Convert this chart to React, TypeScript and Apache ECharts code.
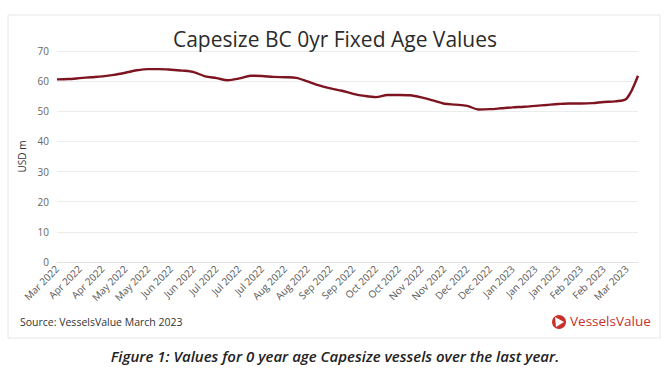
import React, { useEffect, useRef } from "react";
import * as echarts from "echarts";

const tickLabels = [
  "Mar 2022", "Apr 2022", "Apr 2022", "May 2022", "May 2022", "Jun 2022", "Jun 2022",
  "Jul 2022", "Jul 2022", "Jul 2022", "Aug 2022", "Aug 2022", "Sep 2022", "Sep 2022",
  "Oct 2022", "Oct 2022", "Nov 2022", "Nov 2022", "Dec 2022", "Dec 2022",
  "Jan 2023", "Jan 2023", "Jan 2023", "Feb 2023", "Feb 2023", "Mar 2023",
];

const values = [
  60.6, 60.7, 61.0, 61.3, 61.6, 62.1, 62.8, 63.6, 64.0, 64.0,
  63.8, 63.5, 63.0, 61.6, 61.0, 60.3, 60.9, 61.8, 61.7, 61.4,
  61.3, 61.1, 59.9, 58.6, 57.6, 56.8, 55.8, 55.1, 54.7, 55.4,
  55.4, 55.3, 54.6, 53.6, 52.5, 52.2, 51.8, 50.6, 50.7, 51.0,
  51.3, 51.5, 51.8, 52.1, 52.4, 52.6, 52.6, 52.7, 53.1, 53.3,
  54.2, 61.8,
];

const categories: string[] = values.map((_, i) => tickLabels[Math.min(Math.floor(i / 2), tickLabels.length - 1)]);

const title = "Capesize BC 0yr Fixed Age Values";
const yAxisName = "USD m";
const sourceText = "Source: VesselsValue March 2023";
const brandText = "VesselsValue";
const caption = "Figure 1: Values for 0 year age Capesize vessels over the last year.";

export default function App() {
  const ref = useRef<HTMLDivElement>(null);
  useEffect(() => {
    if (!ref.current) return;
    const chart = echarts.init(ref.current, undefined, { renderer: "svg" });
    const font = "'Open Sans', sans-serif";
    chart.setOption({
      animation: false,
      backgroundColor: "#ffffff",
      title: {
        text: title,
        left: "center",
        top: 23,
        textStyle: { fontFamily: font, fontSize: 21, fontWeight: "normal", color: "#2b2b2b" },
      },
      grid: { left: 57, right: 32, top: 51, bottom: 118 },
      xAxis: {
        type: "category",
        data: categories,
        boundaryGap: false,
        axisLine: { show: true, lineStyle: { color: "#e3e3e3" } },
        axisTick: { show: false },
        axisLabel: {
          interval: 1,
          rotate: 45,
          fontFamily: font,
          fontSize: 10,
          color: "#555",
          margin: 5,
        },
      },
      yAxis: {
        type: "value",
        min: 0,
        max: 70,
        interval: 10,
        name: yAxisName,
        nameLocation: "middle",
        nameGap: 29,
        nameTextStyle: { fontFamily: font, fontSize: 10, color: "#333" },
        axisLine: { show: false },
        axisTick: { show: false },
        axisLabel: { fontFamily: font, fontSize: 10, color: "#666", margin: 8 },
        splitLine: { lineStyle: { color: "#ececec" } },
      },
      series: [
        {
          type: "line",
          data: values,
          showSymbol: false,
          smooth: 0.3,
          lineStyle: { color: "#7d1420", width: 2.4 },
        },
      ],
      graphic: [
        {
          type: "rect",
          shape: { x: 8, y: 15, width: 652, height: 323 },
          style: { fill: "none", stroke: "#e6e6e6", lineWidth: 1 },
          silent: true,
        },
        {
          type: "text",
          left: 20,
          top: 316,
          style: { text: sourceText, fontFamily: font, fontSize: 10.5, fill: "#333" },
        },
        {
          type: "circle",
          shape: { cx: 559, cy: 322, r: 7 },
          style: { fill: "#c8302c" },
        },
        {
          type: "polygon",
          shape: { points: [[555, 317], [564, 322], [556, 327]] },
          style: { fill: "#ffffff" },
        },
        {
          type: "text",
          left: 570,
          top: 314,
          style: { text: brandText, fontFamily: font, fontSize: 13.5, fill: "#c8302c" },
        },
        {
          type: "text",
          left: "center",
          top: 348,
          style: {
            text: caption,
            fontFamily: font,
            fontSize: 15,
            fontStyle: "italic",
            fontWeight: 600,
            fill: "#222",
          },
        },
      ],
    });
    return () => chart.dispose();
  }, []);
  return (
    <div
      ref={ref}
      style={{ position: "fixed", left: 0, top: 0, width: 670, height: 380, background: "#fff" }}
    />
  );
}
